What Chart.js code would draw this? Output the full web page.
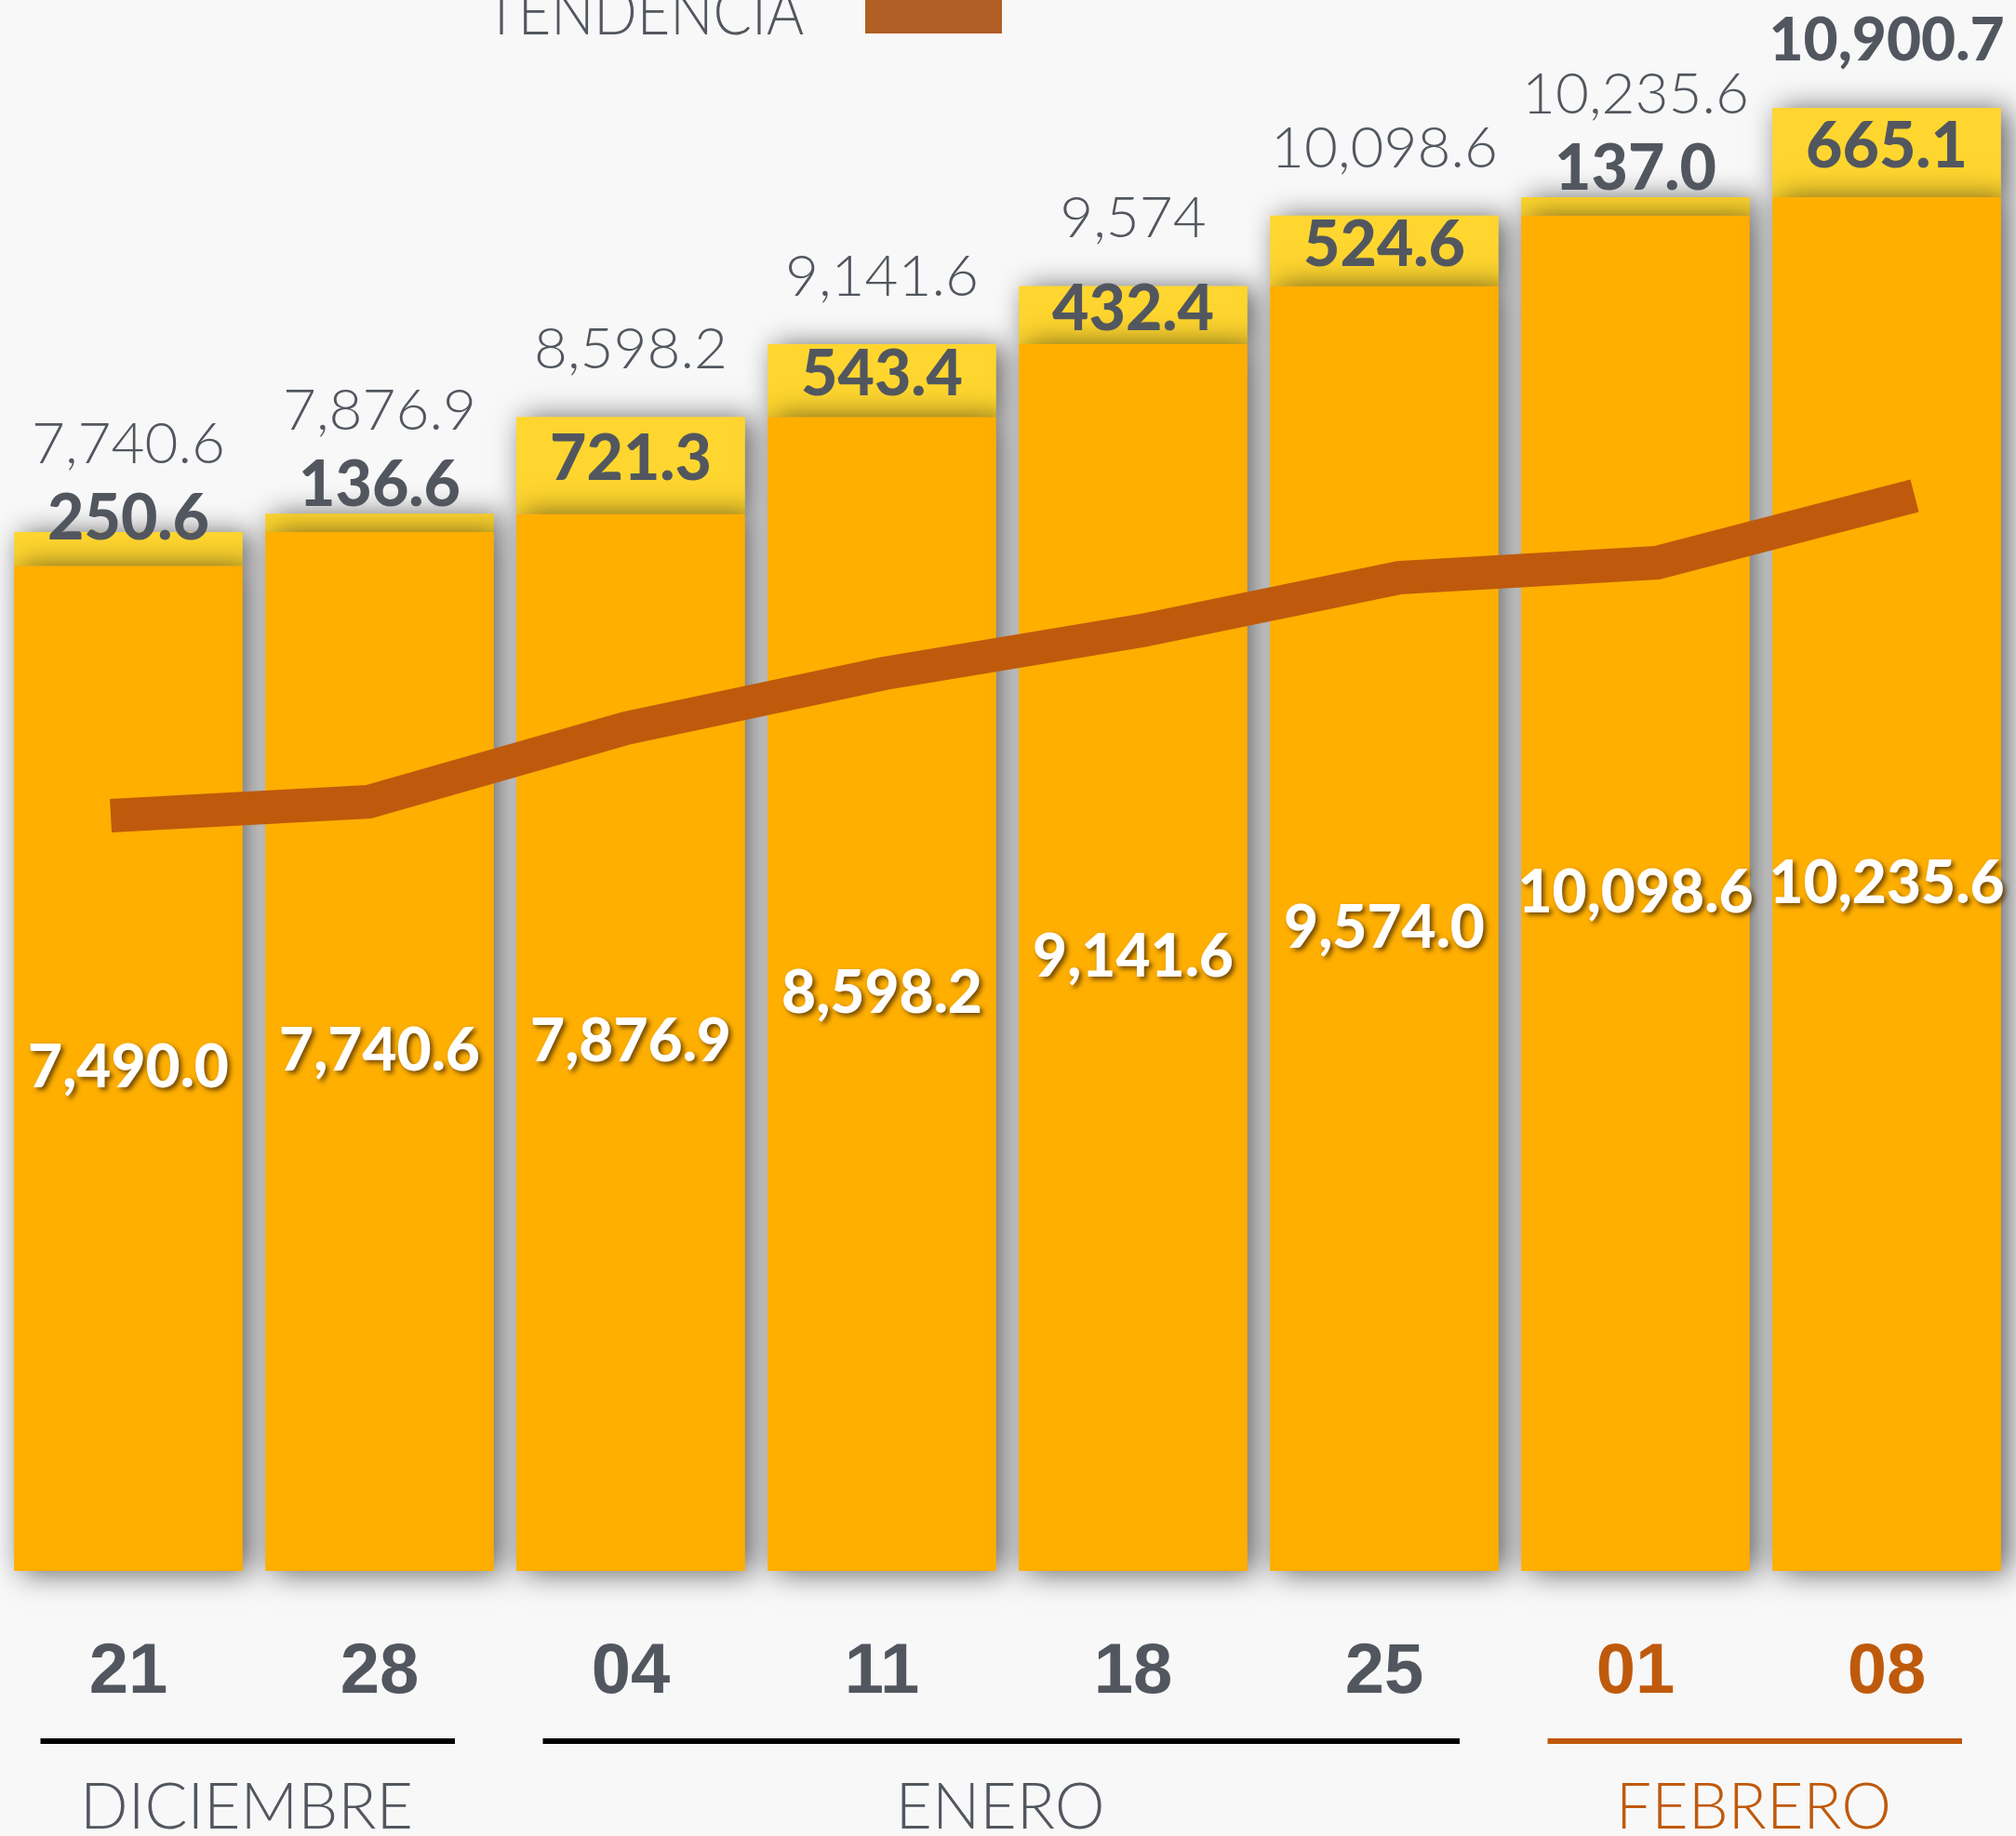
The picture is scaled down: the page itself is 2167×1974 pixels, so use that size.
<!DOCTYPE html>
<html>
<head>
<meta charset="utf-8">
<script src="https://cdn.jsdelivr.net/npm/chart.js@4.4.1/dist/chart.umd.min.js"></script>
<style>
  html, body { margin: 0; padding: 0; background: #f8f8f8; overflow: hidden; }
  canvas { display: block; }
</style>
</head>
<body>
<canvas id="c" width="2167" height="1974"></canvas>
<script>
// ---- data ----
const categories = ['21', '28', '04', '11', '18', '25', '01', '08'];
const baseValues = [7490.0, 7740.6, 7876.9, 8598.2, 9141.6, 9574.0, 10098.6, 10235.6];
const increments = [250.6, 136.6, 721.3, 543.4, 432.4, 524.6, 137.0, 665.1];
const totalLabels = ['7,740.6', '7,876.9', '8,598.2', '9,141.6', '9,574', '10,098.6', '10,235.6', '10,900.7'];
const trend = [5627, 5731, 6279, 6687, 7006, 7401, 7512, 8011];
const months = ['DICIEMBRE', 'ENERO', 'FEBRERO'];
const monthStart = [0, 2, 6];
const monthEnd = [1, 5, 7];
const legendLabel = 'TENDENCIA';

// ---- styles ----
const BG = '#f8f8f8';
const ORANGE = '#feaf00';
const YELLOW = '#ffd62f';
const BROWN = '#bf5a0c';
const LEGEND_BROWN = '#b15f25';
const GRAY = '#52575f';
const HIGHLIGHT_MONTH = months.length - 1;

const fmt1 = v => v.toLocaleString('en-US', { minimumFractionDigits: 1, maximumFractionDigits: 1 });
const monthOf = i => monthStart.findIndex((s, m) => i >= s && i <= monthEnd[m]);

const customPlugin = {
  id: 'custom',
  beforeDraw(chart) {
    const c = chart.ctx;
    c.save();
    c.fillStyle = BG;
    c.fillRect(0, 0, chart.width, chart.height);
    c.restore();
  },
  beforeDatasetDraw(chart, args) {
    if (chart.getDatasetMeta(args.index).type === 'bar') {
      const c = chart.ctx;
      c.save();
      c.shadowColor = 'rgba(0,0,0,0.62)';
      c.shadowBlur = 30;
      c.shadowOffsetX = 8;
      c.shadowOffsetY = 2;
    }
  },
  afterDatasetDraw(chart, args) {
    if (chart.getDatasetMeta(args.index).type === 'bar') chart.ctx.restore();
  },
  afterDatasetsDraw(chart) {
    const c = chart.ctx;
    const x = chart.scales.x, y = chart.scales.y;
    c.save();
    c.textAlign = 'center';
    c.textBaseline = 'middle';
    categories.forEach((cat, i) => {
      const cx = x.getPixelForValue(i);
      const baseTop = y.getPixelForValue(baseValues[i]);
      const bottom = y.getPixelForValue(0);
      const top = y.getPixelForValue(baseValues[i] + increments[i]);
      // white value inside base bar
      c.save();
      c.font = '900 64px Lato, "Noto Sans", sans-serif';
      c.fillStyle = '#ffffff';
      c.shadowColor = 'rgba(90,55,0,0.85)';
      c.shadowBlur = 5;
      c.shadowOffsetX = 3;
      c.shadowOffsetY = 3;
      c.fillText(fmt1(baseValues[i]), cx, (baseTop + bottom) / 2);
      c.restore();
      // increment label
      const h = baseTop - top;
      const small = h < 60;
      const incY = small ? baseTop - 50 : (top + baseTop) / 2 - 6;
      c.font = '900 68px Lato, "Noto Sans", sans-serif';
      c.fillStyle = GRAY;
      c.fillText(increments[i].toFixed(1), cx, incY);
      // total label
      const totY = small ? incY - 80 : top - 72;
      const last = i === categories.length - 1;
      c.font = last ? '900 64px Lato, "Noto Sans", sans-serif' : '300 62px Lato, "Noto Sans", sans-serif';
      c.fillText(totalLabels[i], cx, totY);
    });
    c.restore();
  },
  afterDraw(chart) {
    const c = chart.ctx;
    const x = chart.scales.x;
    c.save();
    // day labels
    c.textAlign = 'center';
    c.textBaseline = 'middle';
    c.font = 'bold 76px "Liberation Sans Narrow", "Liberation Sans", Arial, sans-serif';
    categories.forEach((cat, i) => {
      c.fillStyle = monthOf(i) === HIGHLIGHT_MONTH ? BROWN : GRAY;
      c.fillText(cat, x.getPixelForValue(i), 1799);
    });
    // month lines and labels
    const w = x.getPixelForValue(1) - x.getPixelForValue(0);
    months.forEach((m, k) => {
      const x0 = x.getPixelForValue(monthStart[k]) - 0.35 * w;
      const x1 = x.getPixelForValue(monthEnd[k]) + 0.3 * w;
      c.fillStyle = k === HIGHLIGHT_MONTH ? BROWN : '#000000';
      c.fillRect(x0, 1869, x1 - x0, 6);
      c.fillStyle = k === HIGHLIGHT_MONTH ? BROWN : GRAY;
      c.font = '300 68px Lato, "Open Sans", sans-serif';
      c.textBaseline = 'alphabetic';
      const mid = (x.getPixelForValue(monthStart[k]) + x.getPixelForValue(monthEnd[k])) / 2;
      c.fillText(m, mid - 8, 1966);
    });
    // legend
    c.save();
    c.font = '300 68px Lato, "Open Sans", sans-serif';
    c.textAlign = 'right';
    c.textBaseline = 'alphabetic';
    c.fillStyle = GRAY;
    c.translate(864, 37);
    c.scale(0.9, 1);
    c.fillText(legendLabel, 0, 0);
    c.restore();
    c.fillStyle = LEGEND_BROWN;
    c.fillRect(930, 0, 147, 36);
    c.restore();
  }
};

new Chart(document.getElementById('c'), {
  type: 'bar',
  data: {
    labels: categories,
    datasets: [
      {
        label: 'Base',
        data: baseValues,
        backgroundColor: ORANGE,
        borderWidth: 0,
        order: 1,
        stack: 'total',
        grouped: false,
        barPercentage: 0.91,
        categoryPercentage: 1.0,
        clip: false
      },
      {
        label: 'Incremento',
        data: increments,
        backgroundColor: YELLOW,
        borderWidth: 0,
        order: 2,
        stack: 'total',
        grouped: false,
        barPercentage: 0.91,
        categoryPercentage: 1.0,
        clip: false
      },
      {
        type: 'line',
        label: legendLabel,
        data: trend.map((v, i) => ({ x: i, y: v })),
        xAxisID: 'x2',
        yAxisID: 'y',
        borderColor: BROWN,
        borderWidth: 36,
        borderCapStyle: 'butt',
        borderJoinStyle: 'miter',
        pointRadius: 0,
        tension: 0,
        fill: false,
        order: 0
      }
    ]
  },
  options: {
    responsive: false,
    animation: false,
    layout: { padding: { left: 3, right: 4, top: 0, bottom: 285 } },
    plugins: { legend: { display: false }, tooltip: { enabled: false } },
    scales: {
      x: { display: false, stacked: true, grid: { display: false } },
      x2: { type: 'linear', display: false, offset: false, bounds: 'data', min: -0.419, max: 7.379, grid: { offset: false } },
      y: { display: false, stacked: true, min: 0, max: 11705 }
    }
  },
  plugins: [customPlugin]
});
</script>
</body>
</html>
